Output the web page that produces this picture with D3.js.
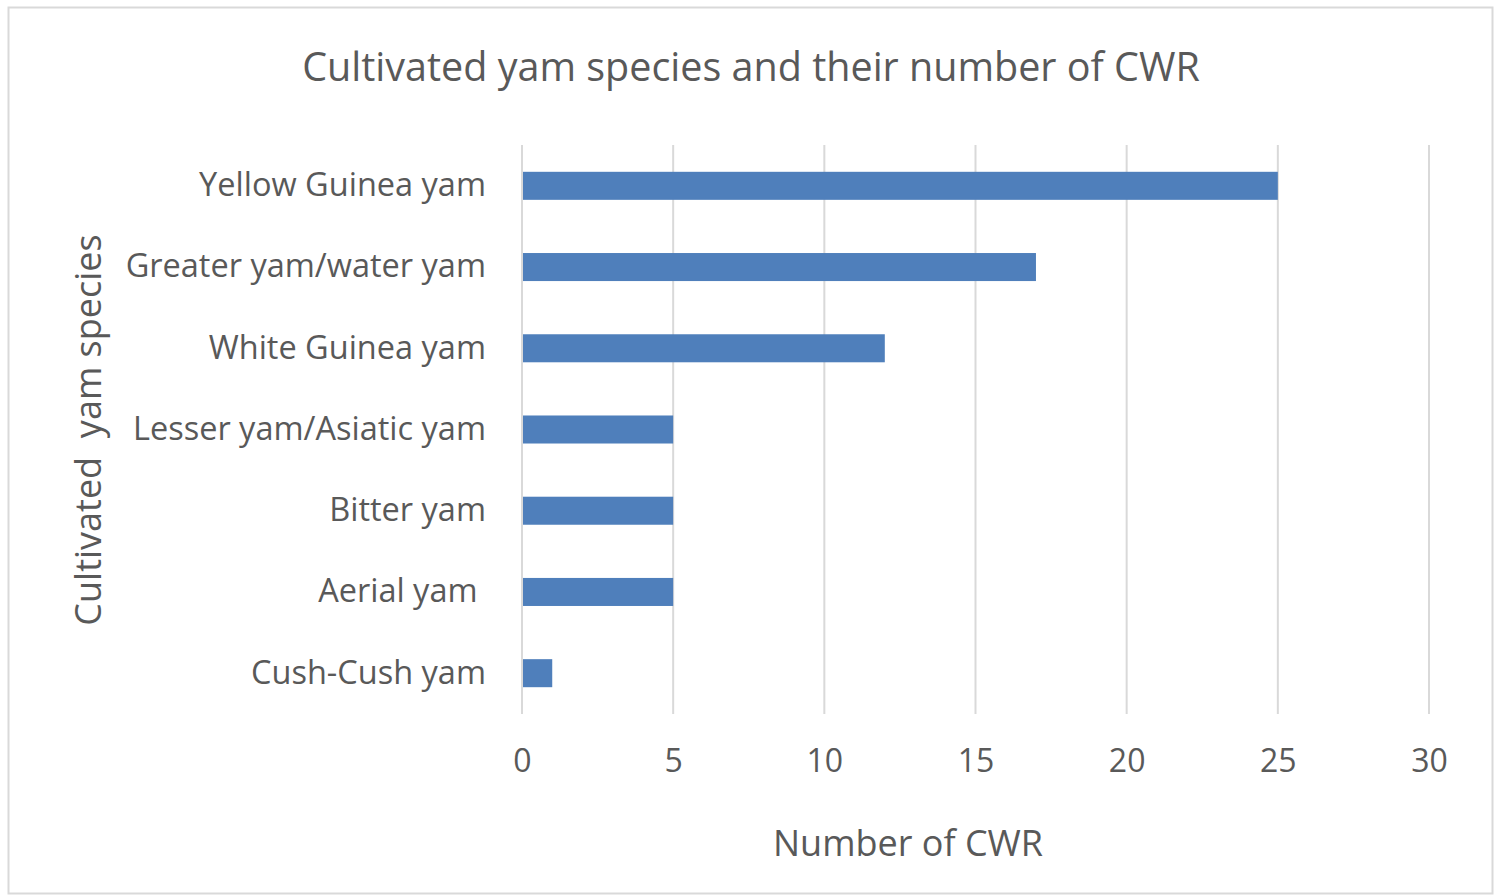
<!DOCTYPE html>
<html><head><meta charset="utf-8">
<script src="https://cdn.jsdelivr.net/npm/d3@7"></script>
<style>
html,body{margin:0;padding:0;background:#fff;}
text{font-family:"Open Sans",sans-serif;fill:#595959;}
</style></head>
<body>
<svg id="c" width="1501" height="895"></svg>
<script>
const categories = ["Yellow Guinea yam","Greater yam/water yam","White Guinea yam","Lesser yam/Asiatic yam","Bitter yam","Aerial yam ","Cush-Cush yam"];
const values = [25,17,12,5,5,5,1];
const xTicks = [0,5,10,15,20,25,30];
const title = "Cultivated yam species and their number of CWR";
const xTitle = "Number of CWR";
const yTitle = "Cultivated  yam species";

const svg = d3.select("#c");
svg.append("rect").attr("x",8.5).attr("y",7.5).attr("width",1484).attr("height",886)
  .attr("fill","#fff").attr("stroke","#d9d9d9").attr("stroke-width",2);

const m = {left:522, right:1429, top:145, bottom:714};
const x = d3.scaleLinear().domain([0,30]).range([m.left,m.right]);
const y = d3.scaleBand().domain(categories).range([m.top,m.bottom]).paddingInner(0.655).paddingOuter(0.33);

// gridlines
svg.append("g").selectAll("line").data(xTicks).join("line")
  .attr("x1",d=>x(d)).attr("x2",d=>x(d)).attr("y1",m.top).attr("y2",m.bottom)
  .attr("stroke","#d9d9d9").attr("stroke-width",2);

// bars
svg.append("g").selectAll("rect").data(values).join("rect")
  .attr("x",x(0)+1).attr("y",(d,i)=>y(categories[i]))
  .attr("width",d=>x(d)-x(0)-1).attr("height",y.bandwidth())
  .attr("fill","#4f7fbb");

// x axis labels
const xa = d3.axisBottom(x).tickValues(xTicks).tickSize(0).tickPadding(0);
const gx = svg.append("g").attr("transform",`translate(0,${m.bottom+35})`).call(xa);
gx.select(".domain").remove();
gx.selectAll("text").attr("font-size",32).attr("fill","#595959").attr("font-family","Open Sans").attr("dy","0.71em");

// y axis labels
const ya = d3.axisLeft(y).tickSize(0).tickPadding(36);
const gy = svg.append("g").attr("transform",`translate(${m.left},0)`).call(ya);
gy.select(".domain").remove();
gy.selectAll("text").attr("font-size",32.5).attr("fill","#595959").attr("font-family","Open Sans")
  .style("white-space","pre").attr("xml:space","preserve");

svg.append("text").attr("x",751).attr("y",81).attr("text-anchor","middle").attr("font-size",39.5).text(title);
svg.append("text").attr("x",908).attr("y",856).attr("text-anchor","middle").attr("font-size",36).text(xTitle);
svg.append("text").attr("transform","translate(101,430) rotate(-90)").attr("text-anchor","middle")
  .attr("font-size",36).style("white-space","pre").text(yTitle);
</script>
</body></html>
